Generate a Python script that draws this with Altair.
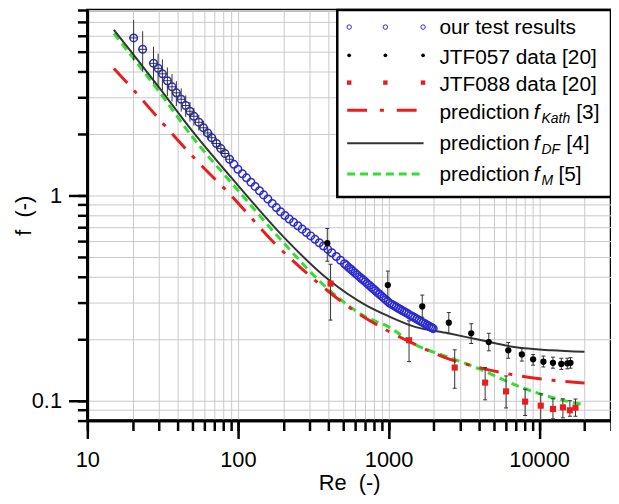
import altair as alt
import pandas as pd

# ---------------- values ----------------
# our test results (open blue circles)
test_re = [20.3, 23.3, 27.5, 29.5, 31.5, 34, 36.5, 39, 42, 45, 48, 51, 55, 59, 63, 67, 72, 77, 82, 88,
           94, 100, 107, 114, 122, 130, 139, 148, 158, 169, 180, 192, 205, 219, 234, 250, 267, 285, 304, 325,
           347, 370, 395, 420, 450, 480, 510, 527,
           545, 562, 580, 600, 620, 640, 660, 680, 700, 722, 745, 770, 795, 820, 845, 872, 900, 930, 960, 990,
           1020, 1055, 1090, 1125, 1160, 1195, 1230, 1270, 1310, 1355, 1400, 1445, 1490, 1540, 1590, 1640, 1690,
           1745, 1800, 1850, 1900, 1940, 1980]
test_f = [5.85, 5.15, 4.40, 4.16, 3.91, 3.62, 3.38, 3.16, 2.94, 2.74, 2.57, 2.43, 2.27, 2.135, 2.015, 1.91, 1.79, 1.69, 1.60, 1.50,
          1.417, 1.34, 1.275, 1.218, 1.159, 1.106, 1.054, 1.006, 0.96, 0.914, 0.872, 0.832, 0.798, 0.768, 0.740, 0.712, 0.685, 0.660, 0.635, 0.611,
          0.588, 0.567, 0.546, 0.526, 0.504, 0.483, 0.465, 0.455,
          0.445, 0.437, 0.428, 0.419, 0.410, 0.402, 0.394, 0.387, 0.380, 0.372, 0.365, 0.357, 0.350, 0.343, 0.336, 0.330, 0.323, 0.316, 0.310, 0.304,
          0.298, 0.294, 0.290, 0.286, 0.282, 0.279, 0.275, 0.2716, 0.268, 0.2641, 0.260, 0.257, 0.2536, 0.250, 0.2466, 0.2433, 0.240,
          0.2369, 0.2338, 0.2310, 0.2284, 0.2264, 0.2244]
# error bars of the first test points
test_err_re = [20.3, 23.3, 27.5, 29.5, 31.5, 34, 36.5, 39, 42, 45, 48, 51, 55, 59, 63, 67, 72, 77, 82, 88]
test_err_f = [5.85, 5.15, 4.40, 4.16, 3.91, 3.62, 3.38, 3.16, 2.94, 2.74, 2.57, 2.43, 2.27, 2.135, 2.015, 1.91, 1.79, 1.69, 1.60, 1.50]
test_f_lo = [4.55, 4.0, 3.5, 3.4, 3.25, 3.05, 2.87, 2.72, 2.56, 2.41, 2.29, 2.19, 2.07, 1.96, 1.87, 1.78, 1.68, 1.59, 1.52, 1.43]
test_f_hi = [7.15, 6.3, 5.3, 4.9, 4.6, 4.2, 3.9, 3.6, 3.32, 3.07, 2.85, 2.67, 2.47, 2.31, 2.16, 2.04, 1.90, 1.79, 1.68, 1.58]
test_re_lo = [18.9, 21.7, 25.6, 27.4, 29.3, 31.6, 33.9, 36.3, 39.1, 41.9, 44.6, 47.4, 51.2, 54.9, 58.6, 62.3, 67, 71.6, 76.3, 81.8]
test_re_hi = [21.7, 24.9, 29.4, 31.6, 33.7, 36.4, 39.1, 41.7, 44.9, 48.2, 51.4, 54.6, 58.9, 63.1, 67.4, 71.7, 77, 82.4, 87.7, 94.2]

# JTF057 data [20] (black dots)
jtf057_re = [392, 989, 1675, 2512, 3540, 4630, 6240, 7680, 9120, 10670, 12350, 14030, 15380, 16150]
jtf057_f = [0.585, 0.366, 0.288, 0.240, 0.213, 0.193, 0.176, 0.168, 0.159, 0.155, 0.153, 0.151, 0.152, 0.153]
jtf057_lo = [0.478, 0.318, 0.255, 0.212, 0.190, 0.175, 0.161, 0.156, 0.149, 0.146, 0.144, 0.142, 0.143, 0.144]
jtf057_hi = [0.690, 0.428, 0.327, 0.269, 0.237, 0.213, 0.192, 0.180, 0.168, 0.165, 0.163, 0.161, 0.161, 0.162]

# JTF088 data [20] (red squares)
jtf088_re = [412, 1368, 2750, 4380, 6030, 8070, 10250, 12350, 14380, 16000, 17430]
jtf088_f = [0.372, 0.197, 0.145, 0.1225, 0.111, 0.099, 0.0946, 0.0912, 0.0928, 0.0898, 0.0925]
jtf088_lo = [0.247, 0.155, 0.115, 0.101, 0.0922, 0.0847, 0.081, 0.0816, 0.0825, 0.084, 0.084]
jtf088_hi = [0.462, 0.245, 0.177, 0.145, 0.132, 0.1138, 0.108, 0.1022, 0.1022, 0.100, 0.1019]

# prediction curves
kath_re = [15, 20, 30, 50, 90, 175, 320, 600, 1000, 1500, 2500, 4000, 7000, 12000, 20000]
kath_f = [4.15, 3.3, 2.35, 1.55, 1.0, 0.585, 0.39, 0.272, 0.218, 0.188, 0.16, 0.145, 0.133, 0.126, 0.122]
df_re = [15, 20, 30, 50, 100, 200, 400, 700, 1000, 1500, 2500, 4000, 7000, 12000, 20000]
df_f = [6.4, 4.9, 3.35, 2.05, 1.12, 0.63, 0.388, 0.293, 0.258, 0.229, 0.213, 0.198, 0.182, 0.176, 0.173]
m_re = [15, 20, 30, 50, 100, 200, 400, 700, 1000, 1500, 2500, 4000, 7000, 12000, 20000]
m_f = [6.15, 4.7, 3.2, 1.92, 1.06, 0.59, 0.348, 0.257, 0.229, 0.188, 0.163, 0.143, 0.119, 0.104, 0.0955]

# axis ticks / labels
x_ticks = [10, 20, 30, 40, 50, 60, 70, 80, 90,
           100, 200, 300, 400, 500, 600, 700, 800, 900,
           1000, 2000, 3000, 4000, 5000, 6000, 7000, 8000, 9000,
           10000, 20000, 30000]
x_major = [10, 100, 1000, 10000]
y_ticks = [0.08, 0.09, 0.1, 0.2, 0.3, 0.4, 0.5, 0.6, 0.7, 0.8, 0.9,
           1, 2, 3, 4, 5, 6, 7, 8]
y_major = [0.1, 1]

legend_labels = ["our test results", "JTF057 data [20]", "JTF088 data [20]"]
pred_main = ["prediction", "prediction", "prediction"]
pred_sub = ["Kath", "DF", "M"]
pred_ref = ["[3]", "[4]", "[5]"]

# ---------------- tables ----------------
test_df = pd.DataFrame({"Re": test_re, "f": test_f})
test_err = pd.DataFrame({"Re": test_err_re, "f": test_err_f, "lo": test_f_lo, "hi": test_f_hi,
                         "relo": test_re_lo, "rehi": test_re_hi})
j57 = pd.DataFrame({"Re": jtf057_re, "f": jtf057_f, "lo": jtf057_lo, "hi": jtf057_hi})
j88 = pd.DataFrame({"Re": jtf088_re, "f": jtf088_f, "lo": jtf088_lo, "hi": jtf088_hi})
kath = pd.DataFrame({"Re": kath_re, "f": kath_f})
dfc = pd.DataFrame({"Re": df_re, "f": df_f})
mc = pd.DataFrame({"Re": m_re, "f": m_f})

FONT = "Liberation Sans"
RED = "#ec1c1c"
GREEN = "#33dd33"
BLUE = "#2a2ad0"
W, H = 528, 414

xs = alt.Scale(type="log", domain=[10, 30000], nice=False)
ys = alt.Scale(type="log", domain=[0.08, 8], nice=False)

common = dict(domainColor="black", domainWidth=2.5, tickColor="black", tickWidth=2.5,
              labelFont=FONT, labelFontSize=22, labelColor="black", labelOverlap=False,
              labelBound=False, titleFont=FONT, titleFontSize=22, titleFontWeight="normal",
              titleColor="black")

# major axes (labels + long ticks)
x_axis_major = alt.Axis(values=x_major, grid=False, tickSize=18, format="d", labelPadding=11,
                        labelFlush=False, title="Re\u00a0 (-)", titlePadding=2, orient="bottom", **common)
y_axis_major = alt.Axis(values=y_major, grid=False, tickSize=19, format="~g", labelPadding=7,
                        title="f\u00a0 (-)", titlePadding=-4, orient="left", **common)
# minor axes (grid + short ticks)
x_axis_minor = alt.Axis(values=x_ticks, grid=True, gridColor="#c8c8c8", gridWidth=1, tickSize=10,
                        labels=False, title=None, orient="bottom", **common)
y_axis_minor = alt.Axis(values=y_ticks, grid=True, gridColor="#c8c8c8", gridWidth=1, tickSize=10,
                        labels=False, title=None, orient="left", **common)


def xq(field, axis=None):
    return alt.X(f"{field}:Q", scale=xs, axis=axis)


def yq(field, axis=None):
    return alt.Y(f"{field}:Q", scale=ys, axis=axis)


line_m = alt.Chart(mc).mark_line(color=GREEN, strokeWidth=3, strokeDash=[8, 5], interpolate="monotone").encode(
    x=xq("Re", x_axis_minor), y=yq("f", y_axis_minor))
line_df = alt.Chart(dfc).mark_line(color="#333333", strokeWidth=2, interpolate="monotone").encode(
    x=xq("Re", x_axis_major), y=yq("f", y_axis_major))
line_k = alt.Chart(kath).mark_line(color=RED, strokeWidth=3, strokeDash=[20, 10, 4, 10], interpolate="monotone").encode(
    x=xq("Re"), y=yq("f"))

pts_test = alt.Chart(test_df).mark_point(shape="circle", filled=False, size=58, strokeWidth=1.5,
                                         color=BLUE, opacity=1).encode(x=xq("Re"), y=yq("f"))
err_test_v = alt.Chart(test_err).mark_rule(color="#333333", strokeWidth=1).encode(
    x=xq("Re"), y=yq("lo"), y2="hi")
err_test_h = alt.Chart(test_err).mark_rule(color="#333333", strokeWidth=1).encode(
    x=xq("relo"), x2="rehi", y=yq("f"))


def caps(df):
    a = alt.Chart(df).mark_tick(orient="horizontal", size=4, thickness=1, color="#333333", opacity=1).encode(
        x=xq("Re"), y=yq("lo"))
    b = alt.Chart(df).mark_tick(orient="horizontal", size=4, thickness=1, color="#333333", opacity=1).encode(
        x=xq("Re"), y=yq("hi"))
    return [a, b]


err57 = alt.Chart(j57).mark_rule(color="#333333", strokeWidth=1).encode(x=xq("Re"), y=yq("lo"), y2="hi")
pts57 = alt.Chart(j57).mark_circle(size=40, color="black", opacity=1).encode(x=xq("Re"), y=yq("f"))
err88 = alt.Chart(j88).mark_rule(color="#333333", strokeWidth=1).encode(x=xq("Re"), y=yq("lo"), y2="hi")
pts88 = alt.Chart(j88).mark_square(size=38, color=RED, opacity=1).encode(x=xq("Re"), y=yq("f"))

# ---------------- legend (drawn inside the plot, top right) ----------------
one = pd.DataFrame({"k": [0]})
legend_layers = [alt.Chart(one).mark_rect(fill="white", stroke="black", strokeWidth=2.5).encode(
    x=alt.value(252), x2=alt.value(W), y=alt.value(0), y2=alt.value(188.6))]

sym_xs = [264, 300.5, 338.5]
for sx in sym_xs:
    legend_layers.append(alt.Chart(one).mark_point(shape="circle", filled=False, size=20, strokeWidth=1,
                                                   color=BLUE, opacity=1).encode(x=alt.value(sx), y=alt.value(17.2)))
    legend_layers.append(alt.Chart(one).mark_circle(size=14, color="black", opacity=1).encode(
        x=alt.value(sx), y=alt.value(45.7)))
    legend_layers.append(alt.Chart(one).mark_square(size=20, color=RED, opacity=1).encode(
        x=alt.value(sx), y=alt.value(73.2)))

legend_layers.append(alt.Chart(one).mark_rule(color=RED, strokeWidth=3, strokeDash=[20, 13, 4, 13]).encode(
    x=alt.value(262), x2=alt.value(339), y=alt.value(101)))
legend_layers.append(alt.Chart(one).mark_rule(color="#333333", strokeWidth=2).encode(
    x=alt.value(262), x2=alt.value(339), y=alt.value(134.3)))
legend_layers.append(alt.Chart(one).mark_rule(color=GREEN, strokeWidth=3, strokeDash=[8, 5]).encode(
    x=alt.value(262), x2=alt.value(339), y=alt.value(165.3)))

text_x = 355
for lab, by in zip(legend_labels, [24, 54, 82]):
    legend_layers.append(alt.Chart(one).mark_text(align="left", baseline="alphabetic", font=FONT, fontSize=21,
                                                  color="black").encode(
        x=alt.value(text_x), y=alt.value(by), text=alt.value(lab)))

for main, sub, ref, by, rx in zip(pred_main, pred_sub, pred_ref, [109.5, 141.5, 172.5], [493, 483, 475]):
    legend_layers.append(alt.Chart(one).mark_text(align="left", baseline="alphabetic", font=FONT, fontSize=21,
                                                  color="black").encode(
        x=alt.value(text_x), y=alt.value(by), text=alt.value(main)))
    legend_layers.append(alt.Chart(one).mark_text(align="left", baseline="alphabetic", font=FONT, fontSize=21,
                                                  fontStyle="italic", color="black").encode(
        x=alt.value(450), y=alt.value(by), text=alt.value("f")))
    legend_layers.append(alt.Chart(one).mark_text(align="left", baseline="alphabetic", font=FONT, fontSize=14,
                                                  fontStyle="italic", color="black").encode(
        x=alt.value(458), y=alt.value(by + 4), text=alt.value(sub)))
    legend_layers.append(alt.Chart(one).mark_text(align="left", baseline="alphabetic", font=FONT, fontSize=21,
                                                  color="black").encode(
        x=alt.value(rx), y=alt.value(by), text=alt.value(ref)))

layers = [line_m, line_df, line_k, pts_test, err_test_v, err_test_h,
          err57, *caps(j57), pts57, err88, *caps(j88), pts88] + legend_layers

chart = alt.layer(*layers).resolve_axis(x="independent", y="independent").properties(
    width=W, height=H,
    padding={"left": 80, "top": 0, "right": 0, "bottom": 74},
    autosize=alt.AutoSizeParams(type="none"),
    background="white",
).configure_view(stroke="black", strokeWidth=2.5)

chart.save("out.html", embed_options={"renderer": "svg", "actions": False})
